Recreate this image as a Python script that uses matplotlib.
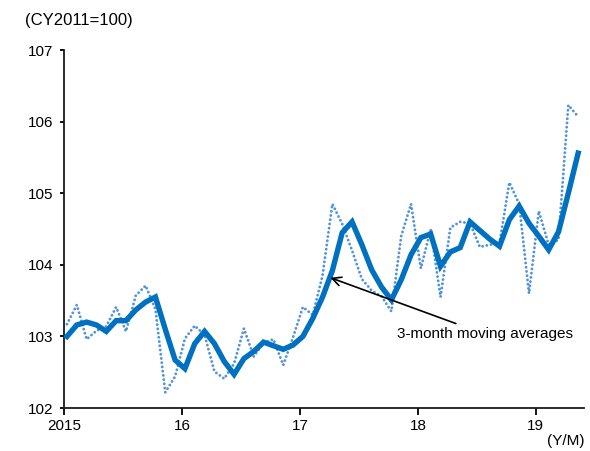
import matplotlib
matplotlib.use("Agg")
import matplotlib.pyplot as plt

plt.rcParams['font.family'] = ['Liberation Sans', 'DejaVu Sans']

# Monthly index, Jan 2015 - May 2019 (CY2011=100)
monthly = [103.17, 103.44, 102.96, 103.08, 103.14, 103.41, 103.07, 103.57, 103.71, 103.38,
           102.22, 102.44, 102.97, 103.15, 103.02, 102.51, 102.41, 102.62, 103.11, 102.72,
           102.91, 102.96, 102.60, 102.99, 103.41, 103.30, 103.85, 104.85, 104.57, 104.20,
           103.80, 103.64, 103.56, 103.35, 104.40, 104.85, 103.95, 104.50, 103.55, 104.52,
           104.60, 104.58, 104.25, 104.28, 104.30, 105.15, 104.85, 103.60, 104.75, 104.28,
           104.35, 106.23, 106.07]

# 3-month moving averages
moving_avg = [103.00, 103.16, 103.20, 103.16, 103.07, 103.22, 103.22, 103.37, 103.48, 103.55,
              103.10, 102.67, 102.55, 102.90, 103.07, 102.90, 102.65, 102.47, 102.69, 102.79,
              102.92, 102.87, 102.82, 102.88, 103.00, 103.25, 103.55, 103.92, 104.45, 104.60,
              104.28, 103.93, 103.69, 103.51, 103.79, 104.14, 104.38, 104.43, 103.98, 104.18,
              104.24, 104.60, 104.48, 104.36, 104.26, 104.63, 104.82, 104.58, 104.40, 104.21,
              104.46, 105.00, 105.56]

year_labels = ['2015', '16', '17', '18', '19']
y_ticks = [102, 103, 104, 105, 106, 107]

months = [i + 0.3 for i in range(len(monthly))]

fig = plt.figure(figsize=(5.9, 4.51), dpi=100)
ax = fig.add_axes([0.1085, 0.0953, 0.8814, 0.7938])

ax.plot(months, monthly, color='#5393D8', linewidth=2.1,
        linestyle=(0, (0.01, 1.45)), dash_capstyle='round', zorder=2)
ax.plot(months, moving_avg, color='#0070C0', linewidth=3.9,
        solid_joinstyle='miter', zorder=3)

ax.set_xlim(0, 52.9)
ax.set_ylim(102, 107)
ax.set_xticks([12 * k for k in range(len(year_labels))])
ax.set_xticklabels(year_labels)
ax.set_yticks(y_ticks)
ax.set_yticklabels([str(v) for v in y_ticks])

for side in ('top', 'right'):
    ax.spines[side].set_visible(False)
for side in ('left', 'bottom'):
    ax.spines[side].set_linewidth(1.3)
    ax.spines[side].set_color('#1a1a1a')

ax.tick_params(axis='x', direction='out', length=5, width=1.3, labelsize=11, pad=3)
ax.tick_params(axis='y', direction='out', length=3, width=1.3, labelsize=11, pad=5)

fig.text(25 / 590, 1 - 20 / 451, '(CY2011=100)', fontsize=12, ha='left', va='center')
fig.text(584 / 590, 1 - 441 / 451, '(Y/M)', fontsize=11, ha='right', va='center')

ax.annotate('3-month moving averages', xy=(27.1, 103.82), xytext=(33.9, 103.03),
            fontsize=11, ha='left', va='center',
            arrowprops=dict(arrowstyle='->', color='black', lw=1.2,
                            shrinkA=2, shrinkB=0, mutation_scale=16))

fig.savefig('out.png', dpi=100)
